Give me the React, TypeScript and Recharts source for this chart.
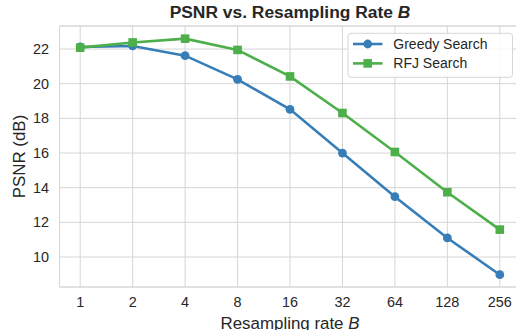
import { CartesianGrid, Label, Line, LineChart, ReferenceLine, XAxis, YAxis } from "recharts";

const rates = ["1", "2", "4", "8", "16", "32", "64", "128", "256"];
const greedyPsnr = [22.12, 22.18, 21.62, 20.25, 18.52, 16.0, 13.48, 11.1, 8.98];
const rfjPsnr = [22.08, 22.38, 22.6, 21.95, 20.42, 18.31, 16.06, 13.74, 11.58];
const psnrTicks = [10, 12, 14, 16, 18, 20, 22];
const psnrDomain = [8.27, 23.33];

const seriesNames = ["Greedy Search", "RFJ Search"];
const blue = "#377eb8";
const green = "#4daf4a";
const gridColor = "#d6d6d6";
const textColor = "#262626";
const font = "'Liberation Sans', Arial, sans-serif";

const data = rates.map((rate, i) => ({
  rate,
  greedy: greedyPsnr[i],
  rfj: rfjPsnr[i]
}));

const tickStyle = { fill: textColor, fontSize: 14.4, fontFamily: font };

function CircleDot(props: any) {
  const { cx, cy, index } = props;
  if (cx == null || cy == null) return null;
  return <circle key={`g-${index}`} cx={cx} cy={cy} r={4.4} fill={blue} />;
}

function SquareDot(props: any) {
  const { cx, cy, index } = props;
  if (cx == null || cy == null) return null;
  return <rect key={`r-${index}`} x={cx - 4.3} y={cy - 4.3} width={8.6} height={8.6} fill={green} />;
}

function XTitle(props: any) {
  const vb = props.viewBox ?? { x: 0, y: 0, width: 0, height: 0 };
  return (
    <text
      x={vb.x + vb.width / 2}
      y={329}
      textAnchor="middle"
      fill={textColor}
      fontSize={16.9}
      fontFamily={font}
    >
      Resampling rate <tspan fontStyle="italic">B</tspan>
    </text>
  );
}

function YTitle(props: any) {
  const vb = props.viewBox ?? { x: 0, y: 0, width: 0, height: 0 };
  const cy = vb.y + vb.height / 2;
  return (
    <text
      x={25}
      y={cy}
      transform={`rotate(-90 25 ${cy})`}
      textAnchor="middle"
      fill={textColor}
      fontSize={16.9}
      fontFamily={font}
    >
      PSNR (dB)
    </text>
  );
}

export default function App() {
  return (
    <div
      style={{
        position: "fixed",
        top: 0,
        left: 0,
        width: 516,
        height: 330,
        overflow: "hidden",
        background: "#ffffff"
      }}
    >
      <LineChart
        width={530}
        height={330}
        data={data}
        margin={{ top: 26, right: 9.5, bottom: 0, left: 0 }}
      >
        <CartesianGrid stroke={gridColor} strokeWidth={1} />
        <XAxis
          dataKey="rate"
          height={43}
          padding={{ left: 20.7, right: 20.7 }}
          tickLine={false}
          tickMargin={4}
          axisLine={{ stroke: gridColor }}
          tick={tickStyle}
          interval={0}
        >
          <Label content={<XTitle />} />
        </XAxis>
        <YAxis
          width={59.5}
          domain={psnrDomain}
          ticks={psnrTicks}
          allowDataOverflow
          tickLine={false}
          tickMargin={4.5}
          axisLine={{ stroke: gridColor }}
          tick={tickStyle}
        >
          <Label content={<YTitle />} />
        </YAxis>
        <ReferenceLine y={psnrDomain[1]} stroke={gridColor} />
        <Line
          type="linear"
          dataKey="greedy"
          name={seriesNames[0]}
          stroke={blue}
          strokeWidth={2.6}
          dot={CircleDot}
          activeDot={false}
          isAnimationActive={false}
        />
        <Line
          type="linear"
          dataKey="rfj"
          name={seriesNames[1]}
          stroke={green}
          strokeWidth={2.6}
          dot={SquareDot}
          activeDot={false}
          isAnimationActive={false}
        />
      </LineChart>
      <svg
        width={516}
        height={330}
        style={{ position: "absolute", top: 0, left: 0, pointerEvents: "none" }}
      >
        <text
          x={290}
          y={18}
          textAnchor="middle"
          fill={textColor}
          fontSize={17.4}
          fontWeight="bold"
          fontFamily={font}
        >
          PSNR vs. Resampling Rate <tspan fontStyle="italic">B</tspan>
        </text>
        <rect x={348} y={33.3} width={164.5} height={44} rx={3} fill="#ffffff" fillOpacity={0.85} stroke={gridColor} />
        <line x1={353} x2={382.5} y1={44} y2={44} stroke={blue} strokeWidth={2.6} />
        <circle cx={367.7} cy={44} r={4.4} fill={blue} />
        <text x={393.3} y={49} fill={textColor} fontSize={14} fontFamily={font}>
          {seriesNames[0]}
        </text>
        <line x1={353} x2={382.5} y1={63.4} y2={63.4} stroke={green} strokeWidth={2.6} />
        <rect x={363.4} y={59.1} width={8.6} height={8.6} fill={green} />
        <text x={393.3} y={68.4} fill={textColor} fontSize={14} fontFamily={font}>
          {seriesNames[1]}
        </text>
      </svg>
    </div>
  );
}
